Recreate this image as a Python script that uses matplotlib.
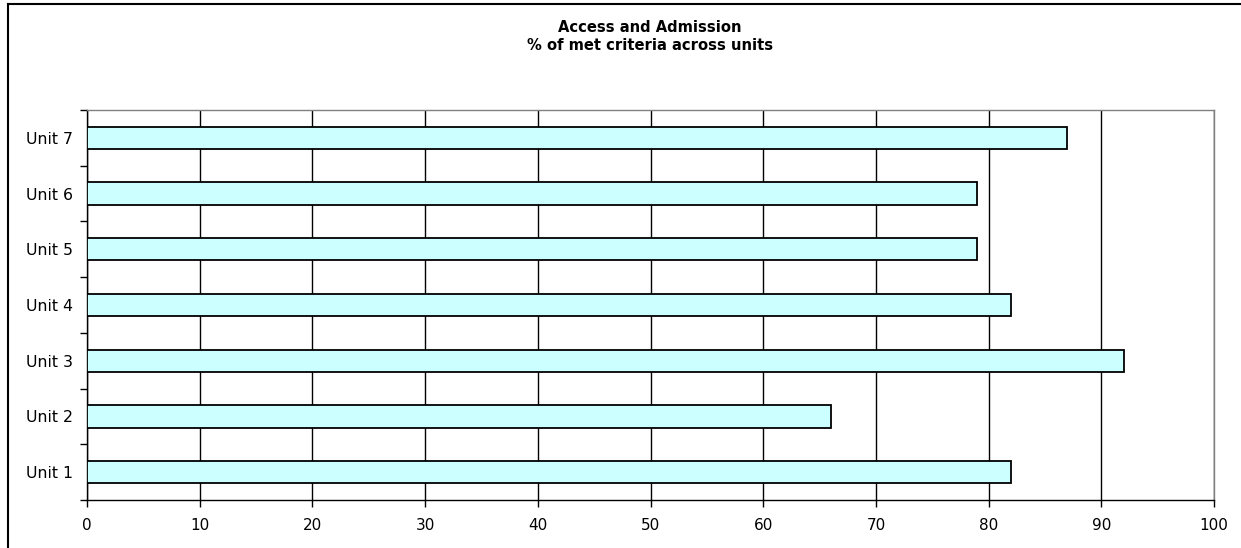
import numpy as np
import matplotlib.pyplot as plt
from matplotlib.lines import Line2D

# percentage of met criteria per unit
units = ['Unit 1', 'Unit 2', 'Unit 3', 'Unit 4', 'Unit 5', 'Unit 6', 'Unit 7']
met_pct = [82, 66, 92, 82, 79, 79, 87]
x_ticks = [0, 10, 20, 30, 40, 50, 60, 70, 80, 90, 100]

W, H = 1241, 548
fig = plt.figure(figsize=(W / 100.0, H / 100.0), dpi=100)
plt.rcParams['font.family'] = ['DejaVu Sans']

# plot area in pixels: left 87, right 1214, top 110, bottom 500
ax = fig.add_axes([87.0 / W, 1 - 500.0 / H, (1214.0 - 87) / W, (500.0 - 110) / H])

pos = np.arange(len(units))
ax.barh(pos, met_pct, height=0.4, color='#CCFFFF', edgecolor='black',
        linewidth=1.3, zorder=3)

ax.set_xlim(0, 100)
ax.set_ylim(-0.5, len(units) - 0.5)
ax.set_xticks(x_ticks)
ax.set_xticklabels([str(v) for v in x_ticks], fontsize=11)

# category labels sit between the tick marks
ax.set_yticks(np.arange(len(units) + 1) - 0.5)
ax.set_yticklabels([])
ax.set_yticks(pos, minor=True)
ax.set_yticklabels(units, minor=True, fontsize=11.3)
ax.tick_params(axis='y', which='minor', length=0, pad=10)
ax.tick_params(axis='y', which='major', length=5, width=1, direction='out')
ax.tick_params(axis='x', length=5, width=1, direction='out', pad=8)

ax.grid(axis='x', color='black', linewidth=1, zorder=1)
ax.set_axisbelow(True)

for side in ['top', 'right']:
    ax.spines[side].set_color('#808080')
    ax.spines[side].set_linewidth(1)
for side in ['left', 'bottom']:
    ax.spines[side].set_color('black')
    ax.spines[side].set_linewidth(1)

fig.text(650.0 / W, 1 - 27.0 / H, 'Access and Admission', ha='center', va='center',
         fontsize=10.6, fontweight='bold')
fig.text(650.0 / W, 1 - 45.0 / H, '% of met criteria across units', ha='center',
         va='center', fontsize=10.6, fontweight='bold')

# outer chart border
fig.add_artist(Line2D([8.0 / W, 1.0], [1 - 4.0 / H, 1 - 4.0 / H], color='black',
                      linewidth=1.5, transform=fig.transFigure))
fig.add_artist(Line2D([8.0 / W, 8.0 / W], [0, 1 - 4.0 / H], color='black',
                      linewidth=1.5, transform=fig.transFigure))

fig.savefig('out.png', dpi=100)
